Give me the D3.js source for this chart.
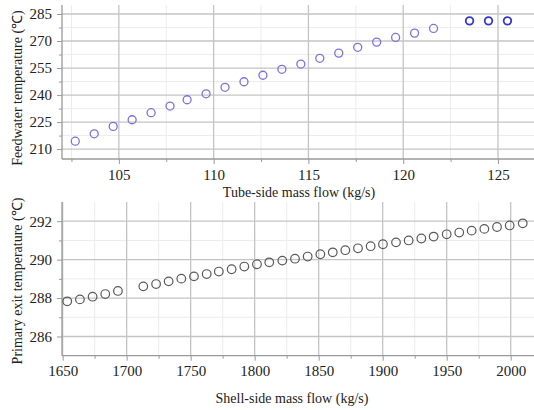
<!DOCTYPE html>
<html>
<head>
<meta charset="utf-8">
<script src="https://cdn.jsdelivr.net/npm/d3@7"></script>
<style>
body{margin:0;background:#fff;}
svg{display:block;}
svg text{font-family:"Liberation Serif","Times New Roman",serif;}
</style>
</head>
<body>
<svg id="c" width="534" height="410"></svg>
<script>
// Top panel data
const tubeFlow = [102.7,103.7,104.7,105.7,106.7,107.7,108.6,109.6,110.6,111.6,112.6,113.6,114.6,115.6,116.6,117.6,118.6,119.6,120.6,121.6];
const feedTemp = [214.4,218.5,222.6,226.3,230.2,233.9,237.4,240.7,244.3,247.4,251.0,254.3,257.2,260.4,263.3,266.5,269.4,272.0,274.4,277.0];
const tubeFlow2 = [123.5,124.5,125.5];
const feedTemp2 = [281.2,281.2,281.2];
const topXTicks = [105,110,115,120,125];
const topYTicks = [210,225,240,255,270,285];

// Bottom panel data
const shellFlow = [1653.6,1663.5,1673.4,1683.3,1693.2,1713.0,1723.0,1732.8,1742.7,1752.6,1762.5,1772.0,1782.0,1791.9,1801.8,
  1811.4,1821.6,1831.5,1841.4,1851.3,1861.0,1870.8,1880.7,1890.6,1900.2,1910.4,1920.3,1930.2,1939.8,1950.0,1959.8,1969.5,1979.4,1989.3,1999.2,2009.4];
const exitTemp = [287.83,287.93,288.07,288.21,288.37,288.61,288.73,288.87,289.01,289.13,289.25,289.38,289.50,289.64,289.76,
  289.86,289.95,290.05,290.16,290.28,290.38,290.49,290.59,290.70,290.80,290.90,291.00,291.10,291.20,291.32,291.41,291.51,291.60,291.70,291.78,291.89];
const botXTicks = [1650,1700,1750,1800,1850,1900,1950,2000];
const botYTicks = [286,288,290,292];

const svg = d3.select("#c");
const FONT = "'Liberation Serif','Times New Roman',serif";

function panel(cfg){
  const g = svg.append("g");
  const x = d3.scaleLinear().domain(cfg.xDom).range([cfg.left, cfg.right]);
  const y = d3.scaleLinear().domain(cfg.yDom).range([cfg.bottom, cfg.top]);
  // minor grid
  g.append("g").selectAll("line").data(cfg.xMinor).join("line")
    .attr("x1",d=>x(d)).attr("x2",d=>x(d)).attr("y1",cfg.top).attr("y2",cfg.bottom)
    .attr("stroke","#ececec").attr("stroke-width",1);
  g.append("g").selectAll("line").data(cfg.yMinor).join("line")
    .attr("y1",d=>y(d)).attr("y2",d=>y(d)).attr("x1",cfg.left).attr("x2",cfg.right)
    .attr("stroke","#ececec").attr("stroke-width",1);
  // major grid
  g.append("g").selectAll("line").data(cfg.xTicks).join("line")
    .attr("x1",d=>x(d)).attr("x2",d=>x(d)).attr("y1",cfg.top).attr("y2",cfg.bottom)
    .attr("stroke","#c4c4c4").attr("stroke-width",1.3);
  g.append("g").selectAll("line").data(cfg.yTicks).join("line")
    .attr("y1",d=>y(d)).attr("y2",d=>y(d)).attr("x1",cfg.left).attr("x2",cfg.right)
    .attr("stroke","#c4c4c4").attr("stroke-width",1.3);

  // axes
  const xAxis = d3.axisBottom(x).tickValues(cfg.xTicks).tickSize(5).tickPadding(5).tickFormat(d3.format("d"));
  const xMinorAxis = d3.axisBottom(x).tickValues(cfg.xMinor).tickSize(3).tickFormat("");
  const yAxis = d3.axisLeft(y).tickValues(cfg.yTicks).tickSize(5).tickPadding(5).tickFormat(d3.format("d"));
  const yMinorAxis = d3.axisLeft(y).tickValues(cfg.yMinor).tickSize(3).tickFormat("");
  const styleAxis = a => {
    a.attr("font-family", FONT).attr("font-size", 15);
    a.select(".domain").attr("stroke","#9a9a9a").attr("stroke-width",1.3);
    a.selectAll(".tick line").attr("stroke","#9a9a9a");
    a.selectAll("text").attr("fill","#222");
  };
  g.append("g").attr("transform",`translate(0,${cfg.bottom})`).call(xMinorAxis).call(a=>{a.select(".domain").remove();a.selectAll("line").attr("stroke","#9a9a9a");});
  g.append("g").attr("transform",`translate(${cfg.left},0)`).call(yMinorAxis).call(a=>{a.select(".domain").remove();a.selectAll("line").attr("stroke","#9a9a9a");});
  g.append("g").attr("transform",`translate(0,${cfg.bottom})`).call(xAxis).call(styleAxis)
    .call(a=>a.select(".domain").attr("d",`M${cfg.left},0H${cfg.right}`));
  g.append("g").attr("transform",`translate(${cfg.left},0)`).call(yAxis).call(styleAxis)
    .call(a=>a.select(".domain").attr("d",`M0,${cfg.bottom}V${cfg.top}`));

  // titles
  g.append("text").attr("x",cfg.xTitleX).attr("y",cfg.xTitleY).attr("text-anchor","middle")
    .attr("font-family",FONT).attr("font-size",14).attr("fill","#222").text(cfg.xTitle);
  g.append("text").attr("transform",`translate(22,${cfg.yTitleY}) rotate(-90)`).attr("text-anchor","middle")
    .attr("font-family",FONT).attr("font-size",14).attr("fill","#222").text(cfg.yTitle);

  cfg.series.forEach(s=>{
    g.append("g").selectAll("circle").data(s.xs).join("circle")
      .attr("cx",d=>x(d)).attr("cy",(d,i)=>y(s.ys[i])).attr("r",s.r)
      .attr("fill","none").attr("stroke",s.color).attr("stroke-width",s.sw);
  });
}

panel({
  left:62,right:534,top:5,bottom:159,
  xDom:[102,126.9], yDom:[204.5,290],
  xTicks:topXTicks, yTicks:topYTicks,
  xMinor:[102.5,107.5,112.5,117.5,122.5],
  yMinor:[217.5,232.5,247.5,262.5,277.5],
  xTitle:"Tube-side mass flow (kg/s)", xTitleX:299, xTitleY:197,
  yTitle:"Feedwater temperature (\u2103)", yTitleY:88,
  series:[
    {xs:tubeFlow, ys:feedTemp, color:"#7f70dc", r:4, sw:1.3},
    {xs:tubeFlow2, ys:feedTemp2, color:"#3838c8", r:3.8, sw:1.8}
  ]
});

panel({
  left:62,right:534,top:202,bottom:355.7,
  xDom:[1649.5,2018.2], yDom:[285,293],
  xTicks:botXTicks, yTicks:botYTicks,
  xMinor:[1675,1725,1775,1825,1875,1925,1975],
  yMinor:[287,289,291],
  xTitle:"Shell-side mass flow (kg/s)", xTitleX:292, xTitleY:403,
  yTitle:"Primary exit temperature (\u2103)", yTitleY:281,
  series:[
    {xs:shellFlow, ys:exitTemp, color:"#5a5a5a", r:4.3, sw:1.2}
  ]
});
</script>
</body>
</html>
